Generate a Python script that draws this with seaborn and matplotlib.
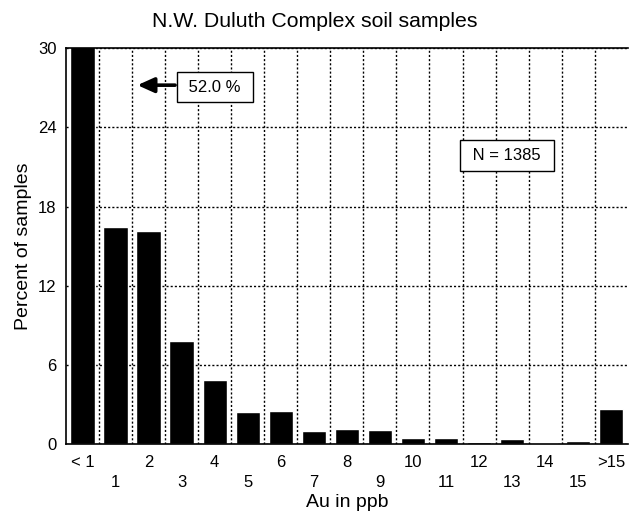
import matplotlib
matplotlib.use("Agg")
import matplotlib.pyplot as plt
import seaborn as sns
import pandas as pd
import numpy as np

categories = ["< 1", "1", "2", "3", "4", "5", "6", "7", "8", "9",
              "10", "11", "12", "13", "14", "15", ">15"]
percent = [52.0, 16.44, 16.18, 7.83, 4.87, 2.45, 2.5, 1.02, 1.11, 1.04,
           0.43, 0.48, 0.15, 0.35, 0.1, 0.2, 2.63]
y_ticks = [0, 6, 12, 18, 24, 30]

sns.set_style("white")
plt.rcParams["font.family"] = ["Liberation Sans", "DejaVu Sans"]
plt.rcParams["text.color"] = "black"
plt.rcParams["axes.labelcolor"] = "black"
plt.rcParams["xtick.color"] = "black"
plt.rcParams["ytick.color"] = "black"

df = pd.DataFrame({"cat": categories, "pct": percent})

fig = plt.figure(figsize=(6.29, 5.13), dpi=100)
ax = fig.add_axes([0.105, 0.1345, 0.893, 0.7715])
sns.barplot(data=df, x="cat", y="pct", color="black", width=0.74,
            saturation=1, ax=ax, order=categories)

n = len(categories)
ax.set_xlim(-0.5, n - 0.5)
ax.set_ylim(0, 30)
ax.set_yticks(y_ticks)
ax.set_yticklabels([str(t) for t in y_ticks], fontsize=12)

ax.set_xticks(range(n))
labels = [c if i % 2 == 0 else "\n" + c for i, c in enumerate(categories)]
ax.set_xticklabels(labels, fontsize=12, linespacing=1.4)
ax.tick_params(axis="x", which="major", length=0, pad=8)
ax.set_xticks(np.arange(0.5, n - 0.5, 1), minor=True)
ax.tick_params(axis="x", which="minor", length=6, width=1, color="black", direction="out")
ax.tick_params(axis="y", which="major", length=4, width=1, color="black", direction="out", pad=3)

ax.grid(False)
ax.yaxis.grid(True, which="major", linestyle=(0, (1.5, 1.5)), color="black", linewidth=1)
ax.xaxis.grid(True, which="minor", linestyle=(0, (1.5, 1.5)), color="black", linewidth=1)
ax.set_axisbelow(True)

for s in ["left", "bottom", "top"]:
    ax.spines[s].set_visible(True)
    ax.spines[s].set_color("black")
    ax.spines[s].set_linewidth(1.2)
ax.spines["right"].set_visible(False)

ax.set_xlabel("Au in ppb", fontsize=14, labelpad=3)
ax.set_ylabel("Percent of samples", fontsize=14, labelpad=4)
ax.set_title("N.W. Duluth Complex soil samples", fontsize=15.3, pad=15, x=0.443)

ax.annotate("", xy=(1.66, 27.2), xytext=(2.8, 27.2),
            arrowprops=dict(arrowstyle="-|>,head_length=1.0,head_width=0.45",
                            color="black", lw=2.6, shrinkA=0, shrinkB=0))
ax.text(4.0, 27.05, " 52.0 % ", fontsize=12, ha="center", va="center",
        bbox=dict(boxstyle="square,pad=0.45", fc="white", ec="black", lw=1))
ax.text(12.84, 21.86, " N = 1385 ", fontsize=12, ha="center", va="center",
        bbox=dict(boxstyle="square,pad=0.5", fc="white", ec="black", lw=1))

fig.savefig("out.png", dpi=100)
